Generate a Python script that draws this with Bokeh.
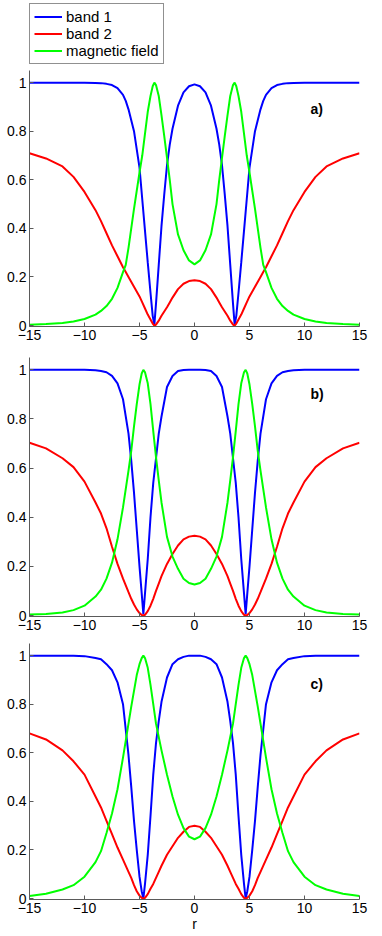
from bokeh.plotting import figure
from bokeh.models import Legend, LegendItem, Label, FixedTicker, Range1d
from bokeh.layouts import column
from bokeh.embed import file_html
from bokeh.resources import INLINE

FONT = "Liberation Sans"
SERIES_NAMES = ["band 1", "band 2", "magnetic field"]
PANEL_TAGS = ["a)", "b)", "c)"]
X_TICKS = [-15, -10, -5, 0, 5, 10, 15]
X_LABELS = ["\u221215", "\u221210", "\u22125", "0", "5", "10", "15"]
Y_TICKS = [0, 0.2, 0.4, 0.6, 0.8, 1]
Y_LABELS = ["0", "0.2", "0.4", "0.6", "0.8", "1"]
X_AXIS_TITLE = "r"

# ---- panel a ----
XA = [-15, -13.5, -12, -11, -10, -9, -8.5, -8, -7.5, -7, -6.5, -6.25, -6, -5.5, -5, -4.75, -4.5, -4.25, -4,
      -3.8, -3.65, -3.5, -3.25, -3, -2.75, -2.5, -2.25, -2, -1.5, -1, -0.5, 0,
      0.5, 1, 1.5, 2, 2.25, 2.5, 2.75, 3, 3.25, 3.5, 3.65, 3.8, 4, 4.25, 4.5, 4.75, 5, 5.5, 6, 6.25, 6.5,
      7, 7.5, 8, 8.5, 9, 10, 11, 12, 13.5, 15]
BAND1_A = [1.0, 1.0, 1.0, 1.0, 1.0, 0.999, 0.998, 0.995, 0.99, 0.977, 0.95, 0.925, 0.89, 0.80, 0.65, 0.52,
           0.39, 0.26, 0.135, 0.04, 0.003, 0.09, 0.25, 0.41, 0.54, 0.66, 0.745, 0.81, 0.905, 0.96, 0.985, 0.993,
           0.985, 0.96, 0.905, 0.81, 0.745, 0.66, 0.54, 0.41, 0.25, 0.09, 0.003, 0.04, 0.135, 0.26, 0.39, 0.52,
           0.65, 0.80, 0.89, 0.925, 0.95, 0.977, 0.99, 0.995, 0.998, 0.999, 1.0, 1.0, 1.0, 1.0, 1.0]
BAND2_A = [0.709, 0.688, 0.655, 0.612, 0.55, 0.475, 0.43, 0.38, 0.33, 0.285, 0.24, 0.22, 0.20, 0.16, 0.12,
           0.095, 0.07, 0.045, 0.025, 0.008, 0.0, 0.004, 0.02, 0.04, 0.058, 0.075, 0.095, 0.115, 0.15, 0.172,
           0.183, 0.186,
           0.183, 0.172, 0.15, 0.115, 0.095, 0.075, 0.058, 0.04, 0.02, 0.004, 0.0, 0.008, 0.025, 0.045, 0.07,
           0.095, 0.12, 0.16, 0.20, 0.22, 0.24, 0.285, 0.33, 0.38, 0.43, 0.475, 0.55, 0.612, 0.655, 0.688, 0.709]
FIELD_A = [0.003, 0.006, 0.01, 0.017, 0.027, 0.045, 0.06, 0.08, 0.11, 0.155, 0.22, 0.25, 0.32, 0.48, 0.63,
           0.70, 0.79, 0.88, 0.945, 0.985, 1.0, 0.99, 0.945, 0.865, 0.78, 0.69, 0.60, 0.50, 0.375, 0.31, 0.268,
           0.252,
           0.268, 0.31, 0.375, 0.50, 0.60, 0.69, 0.78, 0.865, 0.945, 0.99, 1.0, 0.985, 0.945, 0.88, 0.79, 0.70,
           0.63, 0.48, 0.32, 0.25, 0.22, 0.155, 0.11, 0.08, 0.06, 0.045, 0.027, 0.017, 0.01, 0.006, 0.003]

# ---- panel b ----
XB = [-15, -13.5, -12, -11, -10, -9, -8.5, -8, -7.5, -7, -6.5, -6, -5.75, -5.5, -5.25, -5, -4.8, -4.65, -4.5,
      -4.25, -4, -3.75, -3.5, -3.25, -3, -2.5, -2, -1.5, -1, -0.5, 0,
      0.5, 1, 1.5, 2, 2.5, 3, 3.25, 3.5, 3.75, 4, 4.25, 4.5, 4.65, 4.8, 5, 5.25, 5.5, 5.75, 6, 6.5, 7, 7.5,
      8, 8.5, 9, 10, 11, 12, 13.5, 15]
BAND1_B = [1.0, 1.0, 1.0, 1.0, 1.0, 0.998, 0.995, 0.99, 0.975, 0.945, 0.88, 0.74, 0.63, 0.50, 0.35, 0.20,
           0.09, 0.005, 0.09, 0.23, 0.40, 0.54, 0.64, 0.74, 0.81, 0.93, 0.975, 0.995, 0.999, 1.0, 1.0,
           1.0, 0.999, 0.995, 0.975, 0.93, 0.81, 0.74, 0.64, 0.54, 0.40, 0.23, 0.09, 0.005, 0.09, 0.20, 0.35,
           0.50, 0.63, 0.74, 0.88, 0.945, 0.975, 0.99, 0.995, 0.998, 1.0, 1.0, 1.0, 1.0, 1.0]
BAND2_B = [0.703, 0.68, 0.64, 0.604, 0.545, 0.46, 0.415, 0.355, 0.28, 0.21, 0.15, 0.095, 0.068, 0.045, 0.025,
           0.01, 0.002, 0.0, 0.003, 0.018, 0.04, 0.068, 0.10, 0.13, 0.16, 0.21, 0.25, 0.285, 0.31, 0.321, 0.325,
           0.321, 0.31, 0.285, 0.25, 0.21, 0.16, 0.13, 0.10, 0.068, 0.04, 0.018, 0.003, 0.0, 0.002, 0.01, 0.025,
           0.045, 0.068, 0.095, 0.15, 0.21, 0.28, 0.355, 0.415, 0.46, 0.545, 0.604, 0.64, 0.68, 0.703]
FIELD_B = [0.004, 0.006, 0.012, 0.022, 0.04, 0.077, 0.105, 0.15, 0.215, 0.31, 0.44, 0.59, 0.67, 0.77, 0.86,
           0.94, 0.985, 1.0, 0.99, 0.945, 0.86, 0.75, 0.645, 0.55, 0.46, 0.32, 0.24, 0.19, 0.15, 0.132, 0.126,
           0.132, 0.15, 0.19, 0.24, 0.32, 0.46, 0.55, 0.645, 0.75, 0.86, 0.945, 0.99, 1.0, 0.985, 0.94, 0.86,
           0.77, 0.67, 0.59, 0.44, 0.31, 0.215, 0.15, 0.105, 0.077, 0.04, 0.022, 0.012, 0.006, 0.004]

# ---- panel c ----
XC = [-15, -13.5, -12, -11, -10, -9, -8.5, -8, -7.5, -7, -6.5, -6, -5.75, -5.5, -5.25, -5, -4.8, -4.65, -4.5,
      -4.25, -4, -3.75, -3.5, -3.25, -3, -2.5, -2, -1.5, -1, -0.5, 0,
      0.5, 1, 1.5, 2, 2.5, 3, 3.25, 3.5, 3.75, 4, 4.25, 4.5, 4.65, 4.8, 5, 5.25, 5.5, 5.75, 6, 6.5, 7, 7.5,
      8, 8.5, 9, 10, 11, 12, 13.5, 15]
BAND1_C = [1.0, 1.0, 1.0, 1.0, 0.998, 0.99, 0.985, 0.965, 0.94, 0.89, 0.80, 0.59, 0.46, 0.32, 0.2, 0.09,
           0.03, 0.0, 0.06, 0.18, 0.34, 0.51, 0.64, 0.73, 0.81, 0.91, 0.965, 0.985, 0.995, 1.0, 1.0,
           1.0, 0.995, 0.985, 0.965, 0.91, 0.81, 0.73, 0.64, 0.51, 0.34, 0.18, 0.06, 0.0, 0.03, 0.09, 0.2,
           0.32, 0.46, 0.59, 0.80, 0.89, 0.94, 0.965, 0.985, 0.99, 0.998, 1.0, 1.0, 1.0, 1.0]
BAND2_C = [0.68, 0.655, 0.61, 0.565, 0.51, 0.42, 0.375, 0.32, 0.265, 0.21, 0.16, 0.11, 0.085, 0.055, 0.03,
           0.012, 0.003, 0.0, 0.003, 0.018, 0.04, 0.06, 0.085, 0.11, 0.135, 0.18, 0.215, 0.25, 0.275, 0.295, 0.30,
           0.295, 0.275, 0.25, 0.215, 0.18, 0.135, 0.11, 0.085, 0.06, 0.04, 0.018, 0.003, 0.0, 0.003, 0.012,
           0.03, 0.055, 0.085, 0.11, 0.16, 0.21, 0.265, 0.32, 0.375, 0.42, 0.51, 0.565, 0.61, 0.655, 0.68]
FIELD_C = [0.01, 0.02, 0.037, 0.055, 0.09, 0.15, 0.195, 0.27, 0.35, 0.45, 0.58, 0.72, 0.79, 0.855, 0.92,
           0.965, 0.99, 1.0, 0.99, 0.95, 0.88, 0.8, 0.72, 0.665, 0.61, 0.51, 0.42, 0.345, 0.29, 0.255, 0.244,
           0.255, 0.29, 0.345, 0.42, 0.51, 0.61, 0.665, 0.72, 0.8, 0.88, 0.95, 0.99, 1.0, 0.99, 0.965, 0.92,
           0.855, 0.79, 0.72, 0.58, 0.45, 0.35, 0.27, 0.195, 0.15, 0.09, 0.055, 0.037, 0.02, 0.01]

BLUE, RED, GREEN = "#0000ff", "#ff0000", "#00ff00"
COLORS = [BLUE, RED, GREEN]
AXIS_GRAY = "#5a5a5a"
WIDTH = 371
LEFT = 29
RIGHT = 12


def make_panel(x, b1, b2, fld, tag, tag_y, height, top, bottom, xlabel=None):
    p = figure(width=WIDTH, height=height, x_range=Range1d(-15, 15), y_range=Range1d(-0.004, 1.05),
               output_backend="svg", toolbar_location=None,
               min_border_left=LEFT, min_border_right=RIGHT, min_border_top=top, min_border_bottom=bottom)
    p.outline_line_color = None
    p.grid.visible = False
    p.background_fill_color = "white"
    for ax in (p.xaxis[0], p.yaxis[0]):
        ax.axis_line_color = AXIS_GRAY
        ax.major_tick_line_color = AXIS_GRAY
        ax.major_tick_in = 4
        ax.major_tick_out = 0
        ax.minor_tick_line_color = None
        ax.major_label_text_font = FONT
        ax.major_label_text_font_size = "14px"
        ax.major_label_text_color = "black"
    p.xaxis.ticker = FixedTicker(ticks=X_TICKS)
    p.xaxis.major_label_overrides = dict(zip(X_TICKS, X_LABELS))
    p.xaxis.major_label_standoff = 3
    p.yaxis.ticker = FixedTicker(ticks=Y_TICKS)
    p.yaxis.major_label_overrides = dict(zip(Y_TICKS, Y_LABELS))
    p.yaxis.major_label_standoff = 3
    if xlabel:
        p.xaxis.axis_label = xlabel
        p.xaxis.axis_label_text_font = FONT
        p.xaxis.axis_label_text_font_size = "14px"
        p.xaxis.axis_label_text_font_style = "normal"
        p.xaxis.axis_label_text_color = "black"
        p.xaxis.axis_label_standoff = 0
    p.line(x, b1, line_color=BLUE, line_width=2)
    p.line(x, b2, line_color=RED, line_width=2)
    p.line(x, fld, line_color=GREEN, line_width=2)
    p.add_layout(Label(x=10.55, y=tag_y, text=tag, text_font=FONT, text_font_style="bold",
                       text_font_size="14px", text_color="black",
                       text_baseline="middle", text_align="left"))
    return p


# legend strip above panel a (its sample lines lie outside the strip's visible range)
pl = figure(width=WIDTH, height=70, x_range=Range1d(0, 1), y_range=Range1d(0, 1),
            x_axis_type=None, y_axis_type=None, output_backend="svg", toolbar_location=None,
            min_border_left=LEFT, min_border_right=RIGHT, min_border_top=0, min_border_bottom=0)
pl.outline_line_color = None
pl.grid.visible = False
leg_rends = [pl.line([5, 6], [5, 6], line_color=c, line_width=2) for c in COLORS]
legend = Legend(items=[LegendItem(label=n, renderers=[r]) for n, r in zip(SERIES_NAMES, leg_rends)],
                location=(0, 6))
legend.border_line_color = "#222222"
legend.border_line_width = 1
legend.background_fill_color = "white"
legend.background_fill_alpha = 1
legend.label_text_font = FONT
legend.label_text_font_size = "15px"
legend.label_text_color = "black"
legend.glyph_width = 28
legend.glyph_height = 17
legend.label_height = 17
legend.label_standoff = 4
legend.spacing = 0
legend.padding = 4
legend.margin = 0
pl.add_layout(legend)

pa = make_panel(XA, BAND1_A, BAND2_A, FIELD_A, PANEL_TAGS[0], 0.89, 285, 0, 29)
pb = make_panel(XB, BAND1_B, BAND2_B, FIELD_B, PANEL_TAGS[1], 0.90, 286, 2, 25)
pc = make_panel(XC, BAND1_C, BAND2_C, FIELD_C, PANEL_TAGS[2], 0.885, 294, 2, 36, xlabel=X_AXIS_TITLE)

layout = column(pl, pa, pb, pc, spacing=0)
open("out.html", "w").write(file_html(layout, INLINE))
